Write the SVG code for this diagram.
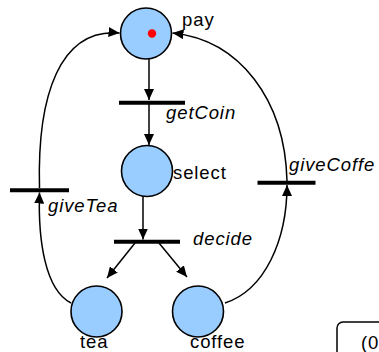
<svg xmlns="http://www.w3.org/2000/svg" width="379" height="352" viewBox="0 0 379 352">
<style>
.place{fill:#99CCFF;stroke:#000;stroke-width:1.6}
.bar{stroke:#000;stroke-width:4}
.arc{fill:none;stroke:#000;stroke-width:1.5}
.lbl{font-family:"Liberation Sans",Arial,sans-serif;font-size:18.5px;letter-spacing:0.9px;fill:#000}
.it{font-style:italic}
</style>
<defs>
<marker id="ah" viewBox="0 0 11 10" refX="11" refY="5" markerWidth="11" markerHeight="10" markerUnits="userSpaceOnUse" orient="auto">
<path d="M0,0 L11,5 L0,10 Z" fill="#000"/>
</marker>
</defs>
<rect width="379" height="352" fill="#fff"/>
<g id="connectors">
<path class="arc" d="M149,59 L149,100" marker-end="url(#ah)"/>
<path class="arc" d="M149,103 L149,145" marker-end="url(#ah)"/>
<path class="arc" d="M143,196 L143,239.5" marker-end="url(#ah)"/>
<path class="arc" d="M135,243 L107,278" marker-end="url(#ah)"/>
<path class="arc" d="M159,243 L187,277" marker-end="url(#ah)"/>
<path class="arc" d="M71,303 C45,290 38,240 39.5,192.5" marker-end="url(#ah)"/>
<path class="arc" d="M39.5,188 C37,95 60,28 119.5,33" marker-end="url(#ah)"/>
<path class="arc" d="M225,303 C265,290 287,240 287,185" marker-end="url(#ah)"/>
<path class="arc" d="M287,181 C285,100 240,40 172.5,33" marker-end="url(#ah)"/>
</g>
<g id="pay">
<circle class="place" cx="146" cy="33.5" r="25.5"/>
<circle cx="152" cy="33.5" r="4.2" fill="#FF0000"/>
<text class="lbl" x="182" y="26">pay</text>
</g>
<g id="getCoin">
<line class="bar" x1="119" y1="102.7" x2="185" y2="102.7"/>
<text class="lbl it" x="166" y="119">getCoin</text>
</g>
<g id="select">
<circle class="place" cx="147" cy="171" r="25.5"/>
<text class="lbl" x="173" y="179">select</text>
</g>
<g id="decide">
<line class="bar" x1="114" y1="241.7" x2="180" y2="241.7"/>
<text class="lbl it" x="193" y="245">decide</text>
</g>
<g id="tea">
<circle class="place" cx="96.5" cy="311.5" r="25.5"/>
<text class="lbl" x="80" y="348">tea</text>
</g>
<g id="coffee">
<circle class="place" cx="198" cy="311.5" r="25.5"/>
<text class="lbl" x="190" y="348">coffee</text>
</g>
<g id="giveTea">
<line class="bar" x1="10" y1="190.3" x2="69" y2="190.3"/>
<text class="lbl it" x="48" y="212">giveTea</text>
</g>
<g id="giveCoffe">
<line class="bar" x1="257.5" y1="182.7" x2="315.5" y2="182.7"/>
<text class="lbl it" x="289" y="171">giveCoffe</text>
</g>
<g id="box">
<rect x="337" y="322" width="60" height="50" rx="6" fill="#fff" stroke="#000" stroke-width="1.5"/>
<text class="lbl" x="361" y="349">(0</text>
</g>
</svg>
